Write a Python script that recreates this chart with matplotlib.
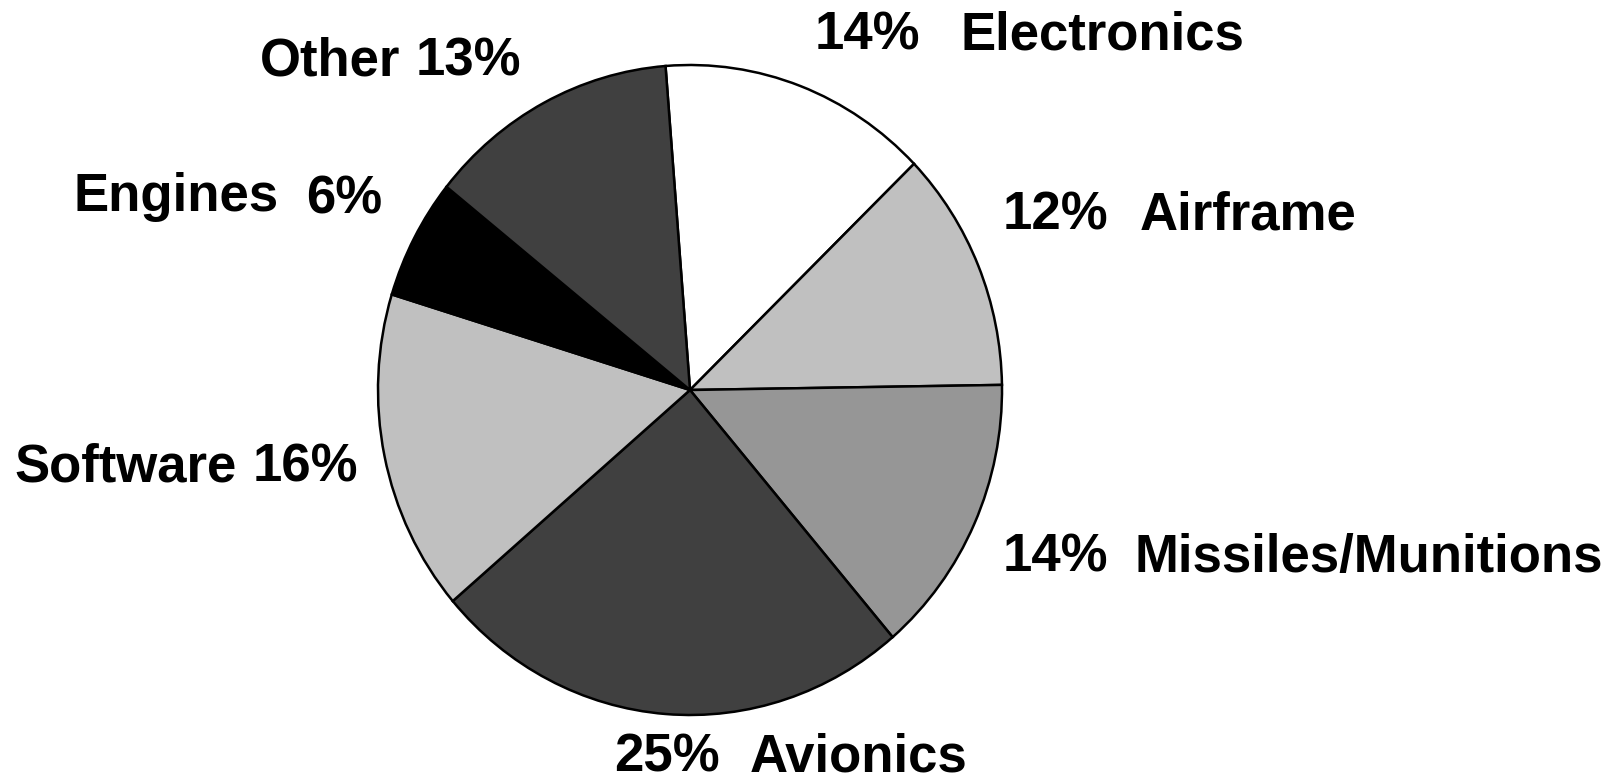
import matplotlib
matplotlib.use("Agg")
import matplotlib.pyplot as plt

# Share of spending by category, clockwise from the top
categories = ["Electronics", "Airframe", "Missiles/Munitions", "Avionics",
              "Software", "Engines", "Other"]
shares = [14, 12, 14, 25, 16, 6, 13]
colors = ["#FFFFFF", "#C0C0C0", "#969696", "#404040", "#C0C0C0", "#000000", "#404040"]

W, H = 1617, 784
fig = plt.figure(figsize=(W / 100, H / 100), dpi=100)
fig.patch.set_facecolor("white")

# Pie occupies x 378..1002 px, y 65..715 px (from top)
left, right, top, bottom = 378, 1002, 65, 715
ax = fig.add_axes([left / W, 1 - bottom / H, (right - left) / W, (bottom - top) / H])
ax.pie(shares, colors=colors, startangle=94.5, counterclock=False,
       wedgeprops=dict(edgecolor="black", linewidth=1.8))
ax.set_aspect("auto")
ax.set_xlim(-1, 1)
ax.set_ylim(-1, 1)
ax.axis("off")

font = dict(family=["Liberation Sans", "DejaVu Sans"], fontsize=38,
            fontweight="bold", color="black")

# Label layout: (name x, name baseline, pct x, pct baseline) in pixels from top-left
layout = {
    "Electronics":        (960, 50, 815, 50),
    "Airframe":           (1140, 230, 1003, 230),
    "Missiles/Munitions": (1134, 572, 1003, 572),
    "Avionics":           (750, 772, 614, 772),
    "Software":           (14, 482, 253, 482),
    "Engines":            (73, 211, 306, 214),
    "Other":              (260, 75, 416, 75),
}

for name, val in zip(categories, shares):
    nx, ny, px, py = layout[name]
    fig.text(nx / W, 1 - ny / H, name, ha="left", va="baseline", **font)
    fig.text(px / W, 1 - py / H, f"{val}%", ha="left", va="baseline", **font)

fig.savefig("out.png", dpi=100, facecolor="white")
